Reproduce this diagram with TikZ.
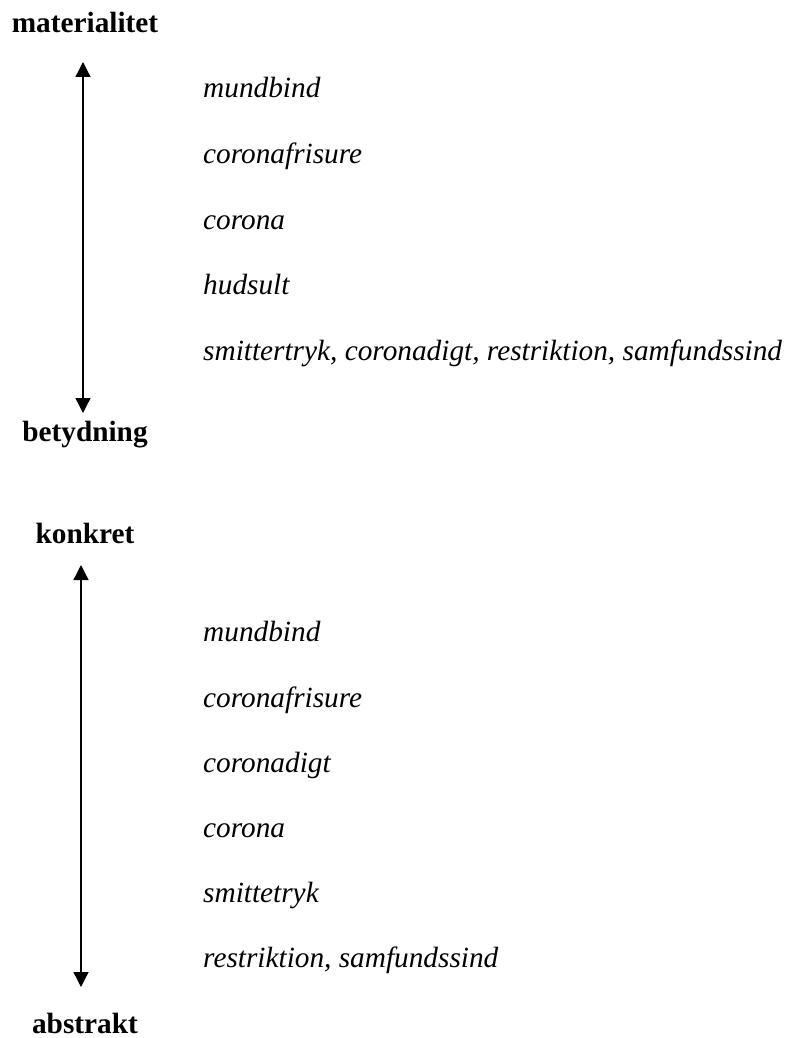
\documentclass[tikz,border=0pt]{standalone}
\usepackage{fontspec}
\setmainfont{Liberation Serif}
\usepackage{tikz}
\usetikzlibrary{arrows.meta}

\begin{document}
\begin{tikzpicture}[x=1pt, y=-1pt, font=\fontsize{29.3}{35}\selectfont,
  head/.style={font=\fontsize{29.3}{35}\selectfont\bfseries, anchor=base, inner sep=0pt},
  item/.style={font=\fontsize{29.3}{35}\selectfont\itshape, anchor=base west, inner sep=0pt},
  scale arrow/.style={line width=1.3pt, {Triangle[length=15pt,width=15pt]}-{Triangle[length=15pt,width=15pt]}}]
  \useasboundingbox (0,0) rectangle (789,1038);
  % materialitet / betydning
  \node[head] (mat) at (85,33) {materialitet};
  \node[head] (bet) at (85,441) {betydning};
  \coordinate (mattop) at (83,62);
  \coordinate (matbot) at (83,413);
  \draw[scale arrow] (mattop) -- (matbot);
  \node[item] (m1) at (203,98) {mundbind};
  \node[item] (m2) at (203,163) {coronafrisure};
  \node[item] (m3) at (203,229) {corona};
  \node[item] (m4) at (203,294) {hudsult};
  \node[item] (m5) at (203,360) {smittertryk, coronadigt, restriktion, samfundssind};
  % konkret / abstrakt
  \node[head] (kon) at (85,543) {konkret};
  \node[head] (abs) at (85,1033) {abstrakt};
  \coordinate (kontop) at (81,565);
  \coordinate (konbot) at (81,987);
  \draw[scale arrow] (kontop) -- (konbot);
  \node[item] (k1) at (203,641) {mundbind};
  \node[item] (k2) at (203,707) {coronafrisure};
  \node[item] (k3) at (203,772) {coronadigt};
  \node[item] (k4) at (203,837) {corona};
  \node[item] (k5) at (203,902) {smittetryk};
  \node[item] (k6) at (203,967) {restriktion, samfundssind};
\end{tikzpicture}
\end{document}
